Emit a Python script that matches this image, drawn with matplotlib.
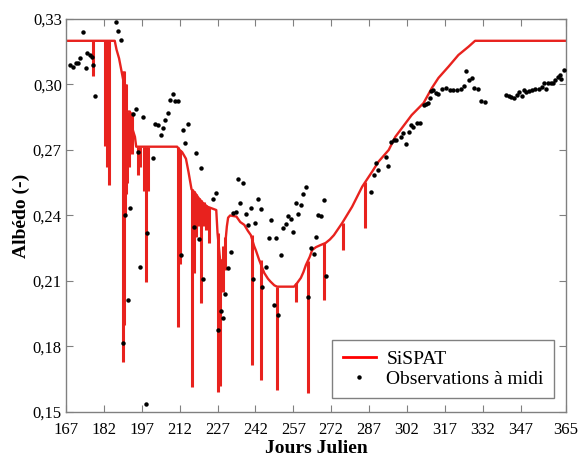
import numpy as np
import matplotlib
matplotlib.use("Agg")
import matplotlib.pyplot as plt

plt.rcParams['font.family'] = ['Liberation Serif', 'DejaVu Serif']

# SiSPAT simulated albedo (envelope)
sim_days = [167, 186.3, 187.0, 188.0, 189.0, 190.0, 191.0, 192.3, 193.5, 194.3,
            194.8, 211.0, 212.0, 213.0, 214.5, 215.5, 216.7, 218.0, 219.5, 221.0,
            223.0, 226.5, 227.0, 228.0, 229.0, 230.0, 230.7, 231.2, 232.0, 234.5,
            236.0, 237.6, 239.0, 240.2, 241.5, 242.2, 243.5, 245.5, 247.0, 248.0,
            249.5, 250.6, 257.3, 258.5, 260.0, 261.0, 262.0, 263.5, 264.5, 266.0,
            267.9, 269.8, 271.5, 273.1, 276.4, 280.3, 284.3, 288.2, 290.8, 294.8,
            297.4, 300.0, 303.9, 308.6, 311.9, 314.5, 318.5, 322.4, 326.4, 329.0,
            365]
sim_vals = [0.320, 0.320, 0.316, 0.312, 0.306, 0.300, 0.2876, 0.2876, 0.279, 0.276,
            0.2715, 0.2715, 0.270, 0.269, 0.266, 0.260, 0.252, 0.2505, 0.248, 0.246,
            0.244, 0.2425, 0.232, 0.220, 0.218, 0.226, 0.235, 0.239, 0.240, 0.2395,
            0.237, 0.2357, 0.233, 0.231, 0.226, 0.224, 0.2196, 0.2137, 0.211, 0.2097,
            0.208, 0.2074, 0.2074, 0.209, 0.2114, 0.214, 0.2173, 0.221, 0.2242, 0.2255,
            0.2265, 0.2274, 0.229, 0.231, 0.2366, 0.244, 0.2532, 0.260, 0.2647, 0.270,
            0.276, 0.280, 0.286, 0.2915, 0.2984, 0.303, 0.3082, 0.3135, 0.3173, 0.320,
            0.320]

# downward spikes of the simulation (rain events)
spike_days = [177.8, 182.6, 183.4, 184.2, 189.5, 189.9, 190.3, 190.8, 191.2, 191.8,
              192.5, 193.0, 195.5, 196.2, 197.8, 198.6, 199.5, 211.2, 212.2, 216.7,
              217.7, 218.4, 219.5, 220.3, 221.5, 222.5, 223.7, 227.3, 228.0, 229.3,
              230.0, 240.8, 244.2, 250.6, 258.0, 263.0, 269.2, 276.6, 285.6]
spike_tops = [0.320, 0.320, 0.320, 0.320, 0.306, 0.306, 0.300, 0.300, 0.2876, 0.2876,
              0.2876, 0.2876, 0.2715, 0.2715, 0.2715, 0.2715, 0.2715, 0.2715, 0.270, 0.252,
              0.251, 0.250, 0.248, 0.247, 0.246, 0.245, 0.244, 0.232, 0.220, 0.226,
              0.230, 0.231, 0.2196, 0.2074, 0.209, 0.219, 0.2274, 0.2366, 0.2555]
spike_lows = [0.304, 0.272, 0.262, 0.254, 0.173, 0.190, 0.240, 0.250, 0.255, 0.262,
              0.270, 0.268, 0.2585, 0.262, 0.251, 0.2095, 0.251, 0.189, 0.218, 0.1616,
              0.2137, 0.230, 0.235, 0.1998, 0.235, 0.2334, 0.2274, 0.1593, 0.162, 0.205,
              0.215, 0.1715, 0.1647, 0.160, 0.2005, 0.1587, 0.2013, 0.2242, 0.2341]

# midday observations
obs_days = [168.6, 169.6, 170.9, 171.6, 172.5, 173.6, 174.9, 175.5, 176.5, 177.1,
            177.5, 178.6, 186.7, 187.6, 188.6, 189.6, 190.5, 191.4, 192.5, 193.5,
            194.6, 195.5, 196.5, 197.5, 198.6, 199.2, 201.4, 202.4, 203.4, 204.5,
            205.4, 206.4, 207.4, 208.3, 209.3, 210.3, 211.3, 212.4, 213.3, 214.3,
            215.2, 217.5, 218.3, 219.5, 220.4, 221.2, 225.4, 226.4, 227.2, 228.3,
            229.2, 230.1, 231.2, 232.2, 233.3, 234.3, 235.2, 236.1, 237.2, 238.3,
            239.2, 240.1, 241.0, 241.9, 243.1, 244.2, 244.8, 246.2, 247.2, 248.0,
            249.2, 250.1, 250.9, 252.1, 253.1, 254.0, 255.1, 256.1, 256.9, 258.1,
            259.0, 260.0, 261.0, 262.1, 263.0, 264.0, 265.1, 266.0, 266.8, 267.9,
            269.2, 269.8, 287.6, 288.9, 289.8, 290.7, 293.7, 294.4, 295.9, 296.8,
            297.7, 299.6, 300.4, 301.8, 302.7, 303.7, 304.6, 306.0, 307.3, 308.6,
            309.5, 310.3, 311.0, 311.6, 312.5, 313.6, 314.5, 315.8, 317.4, 318.9,
            320.4, 321.7, 323.5, 324.7, 325.4, 326.6, 327.7, 328.7, 330.0, 331.3,
            332.9, 341.2, 342.4, 343.4, 344.5, 345.7, 346.5, 347.4, 348.4, 349.3,
            350.4, 351.6, 352.9, 354.2, 355.5, 356.2, 357.2, 357.9, 359.0, 359.9,
            360.8, 361.8, 362.5, 363.1, 364.1]
obs_vals = [0.309, 0.3082, 0.3099, 0.310, 0.3123, 0.3239, 0.3074, 0.3143, 0.3135, 0.3128,
            0.309, 0.2949, 0.3285, 0.3245, 0.3204, 0.1815, 0.2402, 0.2015, 0.2436, 0.2864,
            0.2887, 0.2692, 0.2166, 0.2853, 0.1537, 0.2319, 0.2665, 0.2819, 0.2815, 0.2769,
            0.280, 0.2838, 0.2871, 0.2929, 0.2957, 0.2926, 0.2925, 0.2219, 0.2792, 0.2731,
            0.2819, 0.2346, 0.2685, 0.2291, 0.2619, 0.2108, 0.2474, 0.2502, 0.1877, 0.1964,
            0.1932, 0.2039, 0.216, 0.2232, 0.241, 0.2418, 0.2567, 0.2456, 0.2548, 0.2406,
            0.2357, 0.2433, 0.2109, 0.2364, 0.2476, 0.2431, 0.2074, 0.2166, 0.2297, 0.2378,
            0.1992, 0.2296, 0.1944, 0.2218, 0.2341, 0.2361, 0.2399, 0.2383, 0.2326, 0.2459,
            0.2406, 0.2447, 0.2499, 0.2531, 0.2028, 0.225, 0.2224, 0.2303, 0.2402, 0.2398,
            0.2471, 0.2123, 0.2509, 0.2586, 0.2639, 0.2609, 0.267, 0.2628, 0.2738, 0.2746,
            0.2746, 0.2761, 0.2777, 0.2726, 0.2784, 0.2815, 0.2807, 0.2825, 0.2822, 0.2906,
            0.291, 0.2914, 0.2937, 0.297, 0.2975, 0.2963, 0.2955, 0.298, 0.2986, 0.2975,
            0.2975, 0.2975, 0.298, 0.2993, 0.3062, 0.3021, 0.3029, 0.2983, 0.298, 0.2925,
            0.2921, 0.2952, 0.2948, 0.2944, 0.2937, 0.2952, 0.2967, 0.2948, 0.2975, 0.2967,
            0.297, 0.2975, 0.298, 0.2979, 0.299, 0.3008, 0.298, 0.3006, 0.3006, 0.3008,
            0.3021, 0.3032, 0.3044, 0.3025, 0.3067]

x_ticks = [167, 182, 197, 212, 227, 242, 257, 272, 287, 302, 317, 332, 347, 365]
y_ticks = [0.15, 0.18, 0.21, 0.24, 0.27, 0.30, 0.33]
y_labels = ['0,15', '0,18', '0,21', '0,24', '0,27', '0,30', '0,33']

red = '#e8221e'
grey = '#808080'

fig = plt.figure(figsize=(5.78, 4.57), dpi=100)
ax = fig.add_axes([0.1142, 0.0985, 0.865, 0.86])

ax.plot(sim_days, sim_vals, color=red, lw=1.7, label='SiSPAT', zorder=2)
ax.vlines(spike_days, spike_lows, spike_tops, color=red, lw=2.2, zorder=2)
ax.plot(obs_days, obs_vals, 'o', color='black', ms=3.2, mew=0,
        label='Observations à midi', zorder=3)

ax.set_xlim(167, 365)
ax.set_ylim(0.15, 0.33)
ax.set_xticks(x_ticks)
ax.set_xticklabels([str(t) for t in x_ticks])
ax.set_yticks(y_ticks)
ax.set_yticklabels(y_labels)
ax.tick_params(direction='in', top=True, right=True, length=5, color=grey,
               labelsize=12)
ax.tick_params(axis='x', pad=7)
ax.tick_params(axis='y', pad=3)
for s in ax.spines.values():
    s.set_color(grey)
    s.set_linewidth(1)

ax.set_xlabel('Jours Julien', fontsize=14, fontweight='bold', labelpad=2)
ax.set_ylabel('Albédo (-)', fontsize=14, fontweight='bold', labelpad=2)

leg = ax.legend(loc='lower right', bbox_to_anchor=(0.977, 0.035), borderaxespad=0,
                fontsize=14, fancybox=False, edgecolor=grey, framealpha=1,
                handlelength=1.7, handletextpad=0.55, borderpad=0.55,
                labelspacing=0.1, markerscale=1.0)
leg.get_frame().set_linewidth(1)
leg.get_lines()[0].set_color('red')
leg.get_lines()[0].set_linewidth(2)

fig.savefig('out.png', dpi=100)
